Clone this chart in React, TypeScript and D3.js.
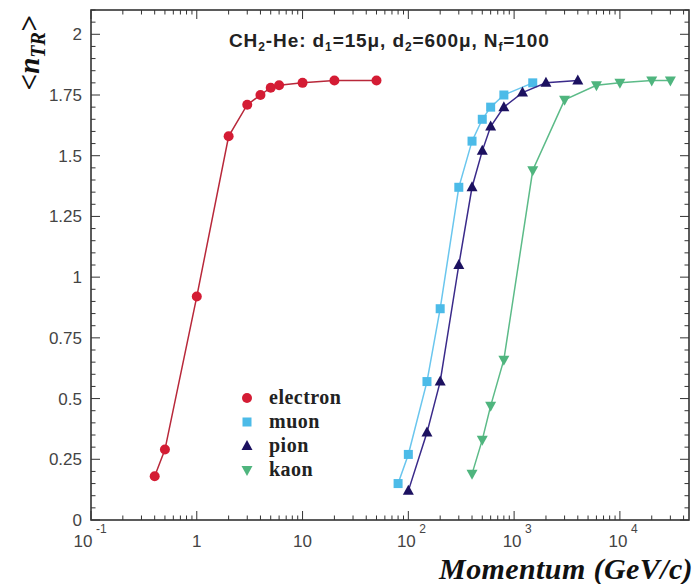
import React from "react";
import * as d3 from "d3";

const electronP = [0.4, 0.5, 1, 2, 3, 4, 5, 6, 10, 20, 50];
const electronN = [0.18, 0.29, 0.92, 1.58, 1.71, 1.75, 1.78, 1.79, 1.80, 1.81, 1.81];
const muonP = [80, 100, 150, 200, 300, 400, 500, 600, 800, 1500];
const muonN = [0.15, 0.27, 0.57, 0.87, 1.37, 1.56, 1.65, 1.70, 1.75, 1.80];
const pionP = [100, 150, 200, 300, 400, 500, 600, 800, 1200, 2000, 4000];
const pionN = [0.12, 0.36, 0.57, 1.05, 1.37, 1.52, 1.62, 1.70, 1.76, 1.80, 1.81];
const kaonP = [400, 500, 600, 800, 1500, 3000, 6000, 10000, 20000, 30000];
const kaonN = [0.19, 0.33, 0.47, 0.66, 1.44, 1.73, 1.79, 1.80, 1.81, 1.81];
const yTickLabels = ["0", "0.25", "0.5", "0.75", "1", "1.25", "1.5", "1.75", "2"];
const xTickValues = [0.1, 1, 10, 100, 1000, 10000];
const legendNames = ["electron", "muon", "pion", "kaon"];

const W = 695, H = 584;
const L = 91, R = 689, T = 10, B = 520;

export default function App() {
  const x = d3.scaleLog().domain([0.1, 45000]).range([L, R]);
  const y = d3.scaleLinear().domain([0, 2.1]).range([B, T]);

  const series = [
    { name: "electron", p: electronP, n: electronN, color: "#d41c34", line: "#b8283a", shape: "circle" },
    { name: "muon", p: muonP, n: muonN, color: "#4cbbe8", line: "#6ac6ee", shape: "square" },
    { name: "pion", p: pionP, n: pionN, color: "#1c1160", line: "#3a2a8a", shape: "triangle" },
    { name: "kaon", p: kaonP, n: kaonN, color: "#4fb57e", line: "#5cbb88", shape: "triangleDown" },
  ];

  const line = d3.line<[number, number]>().x(d => x(d[0])).y(d => y(d[1]));

  const marker = (shape: string, cx: number, cy: number, color: string, key: any) => {
    if (shape === "circle") return <circle key={key} cx={cx} cy={cy} r={5} fill={color} />;
    if (shape === "square") return <rect key={key} x={cx - 4.5} y={cy - 4.5} width={9} height={9} fill={color} />;
    if (shape === "triangle")
      return <path key={key} d={`M${cx},${cy - 6} L${cx + 5.5},${cy + 4} L${cx - 5.5},${cy + 4} Z`} fill={color} />;
    return <path key={key} d={`M${cx},${cy + 6} L${cx + 5.5},${cy - 4} L${cx - 5.5},${cy - 4} Z`} fill={color} />;
  };

  const yMinor = d3.range(0, 2.1001, 0.05);
  const xMinor: number[] = [];
  for (let e = -1; e <= 4; e++) for (let k = 1; k <= 9; k++) {
    const v = k * Math.pow(10, e);
    if (v <= 45000) xMinor.push(v);
  }

  const axisColor = "#333";
  const sans = "'Liberation Sans', Arial, Helvetica, sans-serif";
  const serif = "'Liberation Serif', 'Times New Roman', Times, serif";

  const xLabel = (v: number) => {
    const e = Math.round(Math.log10(v));
    if (e === 0) return { base: "1", sup: "" };
    if (e === 1) return { base: "10", sup: "" };
    return { base: "10", sup: String(e) };
  };

  return (
    <svg width={W} height={H} style={{ position: "absolute", left: 0, top: 0, background: "#fff" }}>
      <rect x={0} y={0} width={W} height={H} fill="#fff" />
      {yMinor.map((v, i) => {
        const major = Math.abs(v / 0.25 - Math.round(v / 0.25)) < 1e-6;
        const len = major ? 9 : 4.5;
        return (
          <g key={"ym" + i} stroke={axisColor} strokeWidth={1}>
            <line x1={L} x2={L + len} y1={y(v)} y2={y(v)} />
            <line x1={R} x2={R - len} y1={y(v)} y2={y(v)} />
          </g>
        );
      })}
      {xMinor.map((v, i) => {
        const major = Math.abs(Math.log10(v) - Math.round(Math.log10(v))) < 1e-9;
        const len = major ? 9 : 4.5;
        return (
          <g key={"xm" + i} stroke={axisColor} strokeWidth={1}>
            <line x1={x(v)} x2={x(v)} y1={B} y2={B - len} />
            <line x1={x(v)} x2={x(v)} y1={T} y2={T + len} />
          </g>
        );
      })}
      <rect x={L} y={T} width={R - L} height={B - T} fill="none" stroke={axisColor} strokeWidth={1.6} />

      {yTickLabels.map((t, i) => (
        <text key={"yl" + i} x={L - 9} y={y(+t) + 6} textAnchor="end" fontFamily={sans}
          fontSize={17} fill="#444">{t}</text>
      ))}
      {xTickValues.map((v, i) => {
        const lb = xLabel(v);
        const cx = x(v) + (lb.sup ? (v < 1 ? -8 : -2) : 0);
        return (
          <g key={"xl" + i}>
            <text x={cx} y={547} textAnchor="middle" fontFamily={sans} fontSize={17} fill="#444">{lb.base}</text>
            {lb.sup && (
              <text x={cx + 13} y={533} textAnchor="start" fontFamily={sans} fontSize={12} fill="#444">{lb.sup}</text>
            )}
          </g>
        );
      })}

      {series.map(s => {
        const pts = s.p.map((p, i) => [p, s.n[i]] as [number, number]);
        return (
          <g key={s.name}>
            <path d={line(pts) || ""} fill="none" stroke={s.line} strokeWidth={1.5} />
            {pts.map((d, i) => marker(s.shape, x(d[0]), y(d[1]), s.color, i))}
          </g>
        );
      })}

      <text x={229} y={47} fontFamily={sans} fontWeight="bold" fontSize={19} letterSpacing={0.9} fill="#222">
        CH<tspan dy={4} fontSize={12}>2</tspan><tspan dy={-4}>-He: d</tspan>
        <tspan dy={4} fontSize={12}>1</tspan><tspan dy={-4}>=15μ, d</tspan>
        <tspan dy={4} fontSize={12}>2</tspan><tspan dy={-4}>=600μ, N</tspan>
        <tspan dy={4} fontSize={12}>f</tspan><tspan dy={-4}>=100</tspan>
      </text>

      {series.map((s, i) => (
        <g key={"lg" + i}>
          {marker(s.shape, 247, 398 + i * 24, s.color, "m")}
          <text x={269} y={404 + i * 24} fontFamily={serif}
            fontWeight="bold" fontSize={20} letterSpacing={0.5} fill="#222">{legendNames[i]}</text>
        </g>
      ))}

      <text x={693} y={579} textAnchor="end" fontFamily={serif}
        fontStyle="italic" fontWeight="bold" fontSize={30} letterSpacing={0.4} fill="#111">Momentum (GeV/c)</text>
      <text transform="translate(39,53) rotate(-90)" textAnchor="middle"
        fontFamily={serif} fontStyle="italic" fontWeight="bold" fontSize={29} fill="#111">
        &lt;n<tspan dy={6} fontSize={20}>TR</tspan><tspan dy={-6}>&gt;</tspan>
      </text>
    </svg>
  );
}
